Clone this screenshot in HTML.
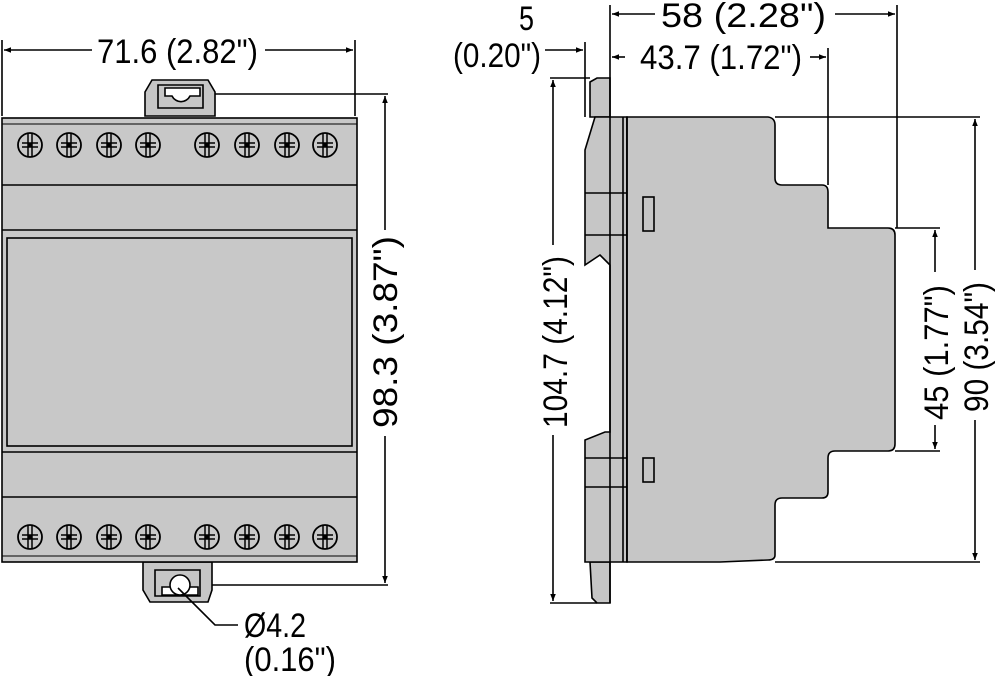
<!DOCTYPE html>
<html><head><style>body{margin:0;background:#fff}svg{display:block}text{font-family:"Liberation Sans",sans-serif;font-size:34px;fill:#000}</style></head><body>
<svg width="1000" height="676" viewBox="0 0 1000 676" xmlns="http://www.w3.org/2000/svg">
<defs>
<marker id="a" viewBox="0 0 10 10" refX="10" refY="5" markerWidth="16" markerHeight="7" orient="auto-start-reverse" markerUnits="userSpaceOnUse"><path d="M0,1 L10,5 L0,9 z" fill="#000"/></marker>
<g id="scr"><circle r="12" fill="#c8c8c8" stroke="#000" stroke-width="1.8"/><path d="M-2,-11V11M2,-11V11M-8,-2H8M-8,2H8" stroke="#000" stroke-width="1.5" fill="none"/><rect x="-2" y="-2" width="4" height="4" fill="#000"/></g>
</defs>
<g stroke="#000" stroke-width="1.6" fill="none">
<path d="M145,92 L152,80 H208 L215,92 V116 H145 z" fill="#c6c6c6"/>
<path d="M158,85 H203 V108 H158z" fill="#c6c6c6"/>
<path d="M165,88 H200 V96 H190 A10,10 0 0 1 172,96 H165z" fill="#fff"/>
<path d="M143,562 V590 L150,602 H208 L212,590 V562 z" fill="#c6c6c6"/>
<path d="M155,570 H200 V596 H155z" fill="#c6c6c6"/>
<path d="M162,587 H198 V595 H162z" fill="#fff"/>
<circle cx="180" cy="585" r="10" fill="#fff"/>
<rect x="2" y="118" width="355" height="444" fill="#c8c8c8"/>
<path d="M2,185 H357 M2,230 H357 M2,452 H357 M2,497 H357"/>
<rect x="7" y="238" width="345" height="208"/>
<path d="M2,124 H357 M2,556 H357" stroke-width="1"/>
<path d="M2,40 V116 M355,40 V116 M215,94 H388 M212,585 H388"/>
<path d="M4,50 H92" marker-start="url(#a)"/>
<path d="M265,50 H353" marker-end="url(#a)"/>
<path d="M385,96 V230" marker-start="url(#a)"/>
<path d="M385,436 V583" marker-end="url(#a)"/>
<path d="M178,588 L215,625 H238"/>
<path d="M590,82 L597,78 H610 V117 H590 z" fill="#c6c6c6"/>
<path d="M590,562 H610 V603 H597 L592,598 z" fill="#c6c6c6"/>
<path d="M595,117 H627 V562 H585 V440 L605,432 H610 V265 L600,255 L585,265 V150 z" fill="#c6c6c6"/>
<path d="M627,117 H768 Q775,118 775,125 V178 Q775,185 782,185 H822 Q828,185 828,192 V228 H888 Q895,228 895,235 V444 Q895,451 888,451 H835 Q828,451 828,458 V492 Q828,498 822,498 H782 Q775,498 775,505 V555 Q775,560 768,560 L720,562 H627 z" fill="#c6c6c6"/>
<path d="M585,193 H627 M585,235 H627 M585,458 H627 M585,487 H627 M627,117 V562 M610,78 V603 M623,117 V562" />
<rect x="643" y="197" width="11" height="34"/><rect x="643" y="458" width="11" height="24"/>
<path d="M610,5 V78 M897,5 V228 M828,48 V185 M585,42 V117 M550,78 H590 M550,603 H597 M775,117 H980 M775,562 H980 M895,228 H940 M895,451 H940"/>
<path d="M612,14 H655" marker-start="url(#a)"/>
<path d="M835,14 H895" marker-end="url(#a)"/>
<path d="M612,57 H625" marker-start="url(#a)"/>
<path d="M810,57 H826" marker-end="url(#a)"/>
<path d="M545,50 H583" marker-end="url(#a)"/>
<path d="M553,80 V245" marker-start="url(#a)"/>
<path d="M553,435 V601" marker-end="url(#a)"/>
<path d="M935,230 V272" marker-start="url(#a)"/>
<path d="M935,425 V449" marker-end="url(#a)"/>
<path d="M975,119 V270" marker-start="url(#a)"/>
<path d="M975,420 V560" marker-end="url(#a)"/>
</g>
<g>
<use href="#scr" x="30" y="145"/><use href="#scr" x="69" y="145"/><use href="#scr" x="109" y="145"/><use href="#scr" x="148" y="145"/>
<use href="#scr" x="207" y="145"/><use href="#scr" x="247" y="145"/><use href="#scr" x="287" y="145"/><use href="#scr" x="325" y="145"/>
<use href="#scr" x="30" y="537"/><use href="#scr" x="69" y="537"/><use href="#scr" x="109" y="537"/><use href="#scr" x="148" y="537"/>
<use href="#scr" x="207" y="537"/><use href="#scr" x="247" y="537"/><use href="#scr" x="287" y="537"/><use href="#scr" x="325" y="537"/>
</g>
<text x="97" y="63" textLength="161" lengthAdjust="spacingAndGlyphs">71.6 (2.82")</text>
<text transform="translate(397,428) rotate(-90)" textLength="192" lengthAdjust="spacingAndGlyphs">98.3 (3.87")</text>
<text x="244" y="637" textLength="62" lengthAdjust="spacingAndGlyphs">Ø4.2</text>
<text x="244" y="671" textLength="92" lengthAdjust="spacingAndGlyphs">(0.16")</text>
<text x="519" y="30" textLength="15" lengthAdjust="spacingAndGlyphs">5</text>
<text x="453" y="67" textLength="88" lengthAdjust="spacingAndGlyphs">(0.20")</text>
<text x="661" y="27" textLength="165" lengthAdjust="spacingAndGlyphs">58 (2.28")</text>
<text x="640" y="69" textLength="162" lengthAdjust="spacingAndGlyphs">43.7 (1.72")</text>
<text transform="translate(567,428) rotate(-90)" textLength="172" lengthAdjust="spacingAndGlyphs">104.7 (4.12")</text>
<text transform="translate(948,420) rotate(-90)" textLength="135" lengthAdjust="spacingAndGlyphs">45 (1.77")</text>
<text transform="translate(988,412) rotate(-90)" textLength="130" lengthAdjust="spacingAndGlyphs">90 (3.54")</text>
</svg>
</body></html>
